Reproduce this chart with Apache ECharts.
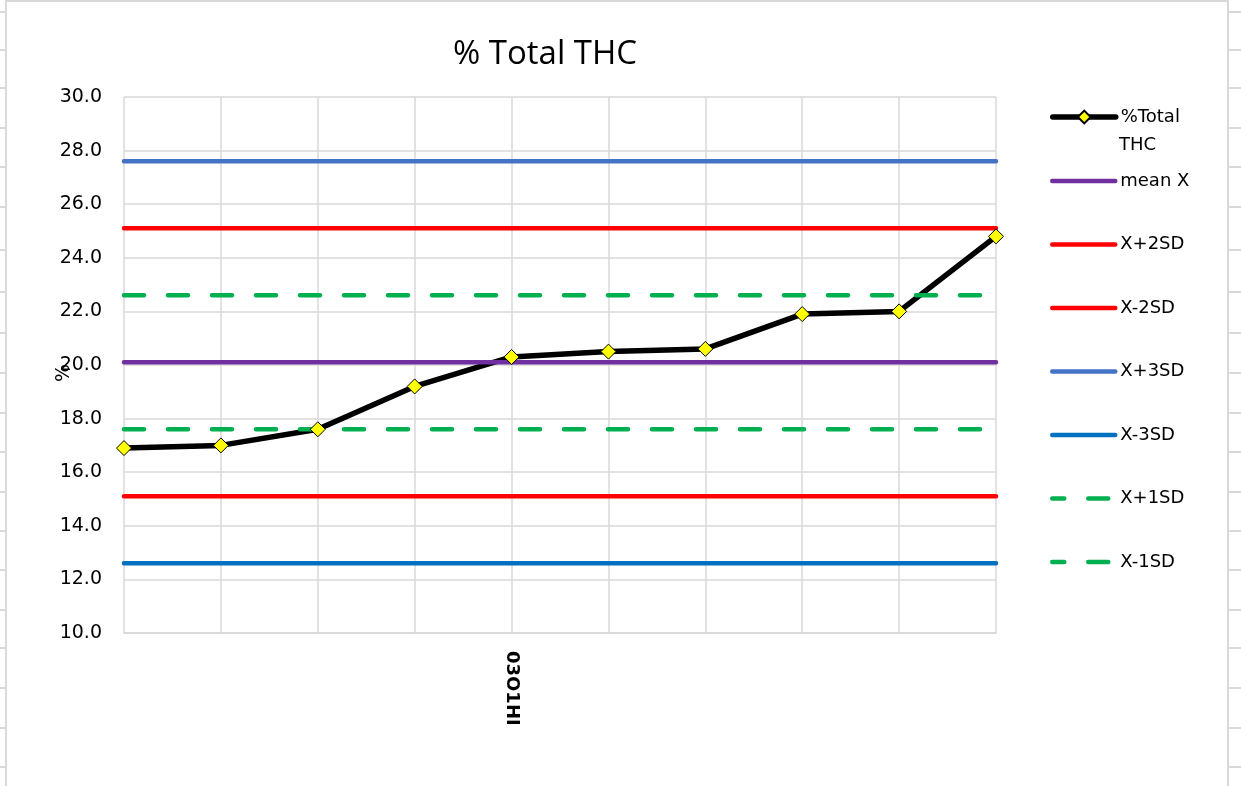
<!DOCTYPE html>
<html>
<head>
<meta charset="utf-8">
<title>% Total THC</title>
<script src="https://cdn.jsdelivr.net/npm/echarts@6/dist/echarts.min.js"></script>
<style>
  html, body { margin: 0; padding: 0; background: #fff; }
  #chart { width: 1241px; height: 786px; }
</style>
</head>
<body>
<div id="chart"></div>
<script>
// sample labels, only the middle one is printed
const categories = ['', '', '', '', '03O1HI', '', '', '', '', ''];
const totalThc = [16.9, 17.0, 17.6, 19.2, 20.3, 20.5, 20.6, 21.9, 22.0, 24.8];
// control limits (constant lines)
const meanX   = [20.1, 20.1, 20.1, 20.1, 20.1, 20.1, 20.1, 20.1, 20.1, 20.1];
const plus2SD = [25.1, 25.1, 25.1, 25.1, 25.1, 25.1, 25.1, 25.1, 25.1, 25.1];
const minus2SD = [15.1, 15.1, 15.1, 15.1, 15.1, 15.1, 15.1, 15.1, 15.1, 15.1];
const plus3SD = [27.6, 27.6, 27.6, 27.6, 27.6, 27.6, 27.6, 27.6, 27.6, 27.6];
const minus3SD = [12.6, 12.6, 12.6, 12.6, 12.6, 12.6, 12.6, 12.6, 12.6, 12.6];
const plus1SD = [22.6, 22.6, 22.6, 22.6, 22.6, 22.6, 22.6, 22.6, 22.6, 22.6];
const minus1SD = [17.6, 17.6, 17.6, 17.6, 17.6, 17.6, 17.6, 17.6, 17.6, 17.6];

const font = 'DejaVu Sans';
const gridColor = '#d9d9d9';

// spreadsheet cell lines visible around the chart box
const sheetRows = [12, 50, 88, 128, 167, 207, 250, 292, 333, 373, 413, 452, 492, 531, 570, 610, 648, 688, 728, 767];
const sheetLines = [
  { type: 'line', shape: { x1: 6, y1: 0, x2: 6, y2: 786 }, style: { stroke: gridColor, lineWidth: 2 } },
  { type: 'line', shape: { x1: 1228, y1: 0, x2: 1228, y2: 786 }, style: { stroke: gridColor, lineWidth: 2 } },
  { type: 'line', shape: { x1: 6, y1: 1, x2: 1228, y2: 1 }, style: { stroke: gridColor, lineWidth: 2 } }
];
sheetRows.forEach(y => {
  sheetLines.push({ type: 'line', shape: { x1: 0, y1: y, x2: 6, y2: y }, style: { stroke: gridColor, lineWidth: 2 } });
  sheetLines.push({ type: 'line', shape: { x1: 1229, y1: y, x2: 1241, y2: y }, style: { stroke: gridColor, lineWidth: 2 } });
});

function limitLine(name, data, color, dashed) {
  return {
    name: name,
    type: 'line',
    data: data,
    symbol: 'none',
    color: color,
    lineStyle: { color: color, width: 4.5, type: dashed ? [20, 24] : 'solid', cap: 'round' },
    silent: true
  };
}

const legendText = { fontFamily: font, fontSize: 18, lineHeight: 20, color: '#000' };

const chart = echarts.init(document.getElementById('chart'));
chart.setOption({
  animation: false,
  backgroundColor: '#fff',
  title: {
    text: '% Total THC',
    left: 540,
    textAlign: 'center',
    top: 33,
    textStyle: { fontFamily: 'Open Sans', fontSize: 33, fontWeight: 'normal', color: '#000' }
  },
  legend: [
    {
      data: ['%Total THC'],
      orient: 'vertical',
      left: 1050,
      top: 107,
      padding: 0,
      itemWidth: 63,
      itemHeight: 16,
      lineStyle: { width: 5.5, cap: 'round' },
      formatter: () => '%Total',
      textStyle: legendText
    },
    {
      data: ['mean X', 'X+2SD', 'X-2SD', 'X+3SD', 'X-3SD', 'X+1SD', 'X-1SD'],
      orient: 'vertical',
      left: 1050,
      top: 171,
      padding: 0,
      itemGap: 43.5,
      itemWidth: 63,
      itemHeight: 14,
      itemStyle: { opacity: 0 },
      lineStyle: { width: 4.5, cap: 'round', dashOffset: 8 },
      textStyle: legendText
    }
  ],
  graphic: sheetLines.concat([
    { type: 'text', left: 1119, top: 136, style: { text: 'THC', font: '18px "DejaVu Sans"', fill: '#000' } }
  ]),
  grid: { left: 124, right: 245, top: 97, bottom: 153 },
  xAxis: {
    type: 'category',
    data: categories,
    boundaryGap: false,
    axisLine: { lineStyle: { color: gridColor, width: 1.5 } },
    axisTick: { show: false },
    axisLabel: {
      interval: 0,
      rotate: -90,
      margin: 18,
      fontFamily: font,
      fontSize: 18,
      fontWeight: 'bold',
      color: '#000'
    },
    splitLine: { show: true, lineStyle: { color: gridColor, width: 1.5 } }
  },
  yAxis: {
    type: 'value',
    min: 10,
    max: 30,
    interval: 2,
    name: '%',
    nameLocation: 'middle',
    nameGap: 50,
    nameMoveOverlap: false,
    nameTextStyle: { fontFamily: font, fontSize: 19, color: '#000', padding: [0, 16, 0, 0] },
    axisLine: { show: false },
    axisTick: { show: false },
    axisLabel: {
      margin: 22,
      fontFamily: font,
      fontSize: 19,
      color: '#000',
      formatter: v => v.toFixed(1)
    },
    splitLine: { lineStyle: { color: gridColor, width: 1.5 } }
  },
  series: [
    {
      name: '%Total THC',
      type: 'line',
      data: totalThc,
      symbol: 'diamond',
      symbolSize: 15,
      color: '#000',
      lineStyle: { color: '#000', width: 5.5 },
      itemStyle: { color: '#ffff00', borderColor: '#000', borderWidth: 1 }
    },
    limitLine('mean X', meanX, '#7030a0', false),
    limitLine('X+2SD', plus2SD, '#ff0000', false),
    limitLine('X-2SD', minus2SD, '#ff0000', false),
    limitLine('X+3SD', plus3SD, '#4472c4', false),
    limitLine('X-3SD', minus3SD, '#0070c0', false),
    limitLine('X+1SD', plus1SD, '#00b050', true),
    limitLine('X-1SD', minus1SD, '#00b050', true)
  ]
});
</script>
</body>
</html>
